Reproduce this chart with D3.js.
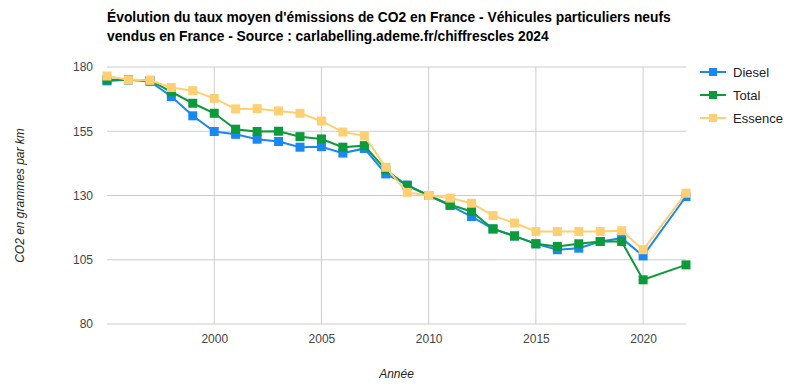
<!DOCTYPE html>
<html>
<head>
<meta charset="utf-8">
<script src="https://cdn.jsdelivr.net/npm/d3@7"></script>
<style>
  body { margin: 0; background: #fff; font-family: Arial, "Liberation Sans", sans-serif; }
</style>
</head>
<body>
<div id="chart"></div>
<script>
// Data
const years = [1995, 1996, 1997, 1998, 1999, 2000, 2001, 2002, 2003, 2004, 2005, 2006, 2007, 2008,
  2009, 2010, 2011, 2012, 2013, 2014, 2015, 2016, 2017, 2018, 2019, 2020, 2022];
const diesel = [174.6, 175, 174.4, 168.5, 161, 154.9, 153.8, 151.9, 151, 148.8, 149, 146.5, 148.3, 138.4,
  134.1, 130, 126.1, 121.8, 117, 114.3, 111.2, 108.9, 109.5, 112.1, 113.4, 106.5, 129.6];
const total = [175, 175, 174.8, 170.3, 165.9, 162, 155.8, 154.9, 155, 152.9, 152, 148.8, 149.4, 140,
  133.8, 130, 126.4, 123.8, 117, 114.2, 111.2, 110.2, 111.2, 112.1, 112.1, 97.2, 103];
const essence = [176.5, 175, 174.8, 172, 170.8, 167.8, 163.7, 163.8, 162.9, 162, 159, 154.7, 153.2, 141,
  131.2, 130, 129, 127, 122.2, 119.3, 116, 116, 116, 116, 116.3, 108.9, 130.9];
const yTicks = [80, 105, 130, 155, 180];
const xTicks = [2000, 2005, 2010, 2015, 2020];

const series = [
  { name: "Diesel", values: diesel, color: "#1a88f2" },
  { name: "Total", values: total, color: "#0c9a3a" },
  { name: "Essence", values: essence, color: "#ffcf73" }
];

const W = 796, H = 386;
const margin = { top: 67, right: 110, bottom: 62, left: 107 };
const width = W - margin.left - margin.right;
const height = H - margin.top - margin.bottom;

const svg = d3.select("#chart").append("svg")
  .attr("width", W).attr("height", H);

// Title
const title = svg.append("text")
  .attr("x", 107).attr("y", 22)
  .attr("font-size", "13.8px").attr("font-weight", "bold").attr("fill", "#000");
title.append("tspan").attr("x", 107).attr("dy", 0)
  .text("Évolution du taux moyen d'émissions de CO2 en France - Véhicules particuliers neufs");
title.append("tspan").attr("x", 107).attr("dy", 19)
  .text("vendus en France - Source : carlabelling.ademe.fr/chiffrescles 2024");

const g = svg.append("g").attr("transform", `translate(${margin.left},${margin.top})`);

const x = d3.scaleLinear().domain([1995, 2022]).range([0, width]);
const y = d3.scaleLinear().domain([80, 180]).range([height, 0]);

// Gridlines
g.append("g").selectAll("line").data(yTicks).join("line")
  .attr("x1", 0).attr("x2", width)
  .attr("y1", d => y(d)).attr("y2", d => y(d))
  .attr("stroke", "#cccccc").attr("stroke-width", 1);
g.append("g").selectAll("line").data(xTicks).join("line")
  .attr("x1", d => x(d)).attr("x2", d => x(d))
  .attr("y1", 0).attr("y2", height)
  .attr("stroke", "#cccccc").attr("stroke-width", 1);

// Axes (labels only)
const yAxis = g.append("g")
  .call(d3.axisLeft(y).tickValues(yTicks).tickSize(0).tickPadding(14));
yAxis.select(".domain").remove();
yAxis.selectAll("text").attr("font-size", "12px").attr("fill", "#444")
  .attr("font-family", "Arial, 'Liberation Sans', sans-serif");

const xAxis = g.append("g").attr("transform", `translate(0,${height})`)
  .call(d3.axisBottom(x).tickValues(xTicks).tickFormat(d3.format("d")).tickSize(0).tickPadding(10));
xAxis.select(".domain").remove();
xAxis.selectAll("text").attr("font-size", "12px").attr("fill", "#444")
  .attr("font-family", "Arial, 'Liberation Sans', sans-serif");

// Axis titles
svg.append("text")
  .attr("x", margin.left + width / 2).attr("y", 378)
  .attr("text-anchor", "middle").attr("font-size", "12px")
  .attr("font-style", "italic").attr("fill", "#222")
  .text("Année");
svg.append("text")
  .attr("transform", `translate(24,${margin.top + height / 2}) rotate(-90)`)
  .attr("text-anchor", "middle").attr("font-size", "12px")
  .attr("font-style", "italic").attr("fill", "#222")
  .text("CO2 en grammes par km");

// Lines and markers
const line = d3.line().x((d, i) => x(years[i])).y(d => y(d));
series.forEach(s => {
  g.append("path").datum(s.values)
    .attr("fill", "none").attr("stroke", s.color).attr("stroke-width", 2)
    .attr("d", line);
  g.selectAll(null).data(s.values).join("rect")
    .attr("x", (d, i) => x(years[i]) - 4.5)
    .attr("y", d => y(d) - 4.5)
    .attr("width", 9).attr("height", 9)
    .attr("fill", s.color);
});

// Legend
const legend = svg.append("g").attr("transform", "translate(700,72)");
series.forEach((s, i) => {
  const row = legend.append("g").attr("transform", `translate(0,${i * 23})`);
  row.append("line").attr("x1", 0).attr("x2", 26).attr("y1", 0).attr("y2", 0)
    .attr("stroke", s.color).attr("stroke-width", 2);
  row.append("rect").attr("x", 9).attr("y", -4).attr("width", 8).attr("height", 8)
    .attr("fill", s.color);
  row.append("text").attr("x", 33).attr("y", 4.5)
    .attr("font-size", "13px").attr("fill", "#222").text(s.name);
});
</script>
</body>
</html>
